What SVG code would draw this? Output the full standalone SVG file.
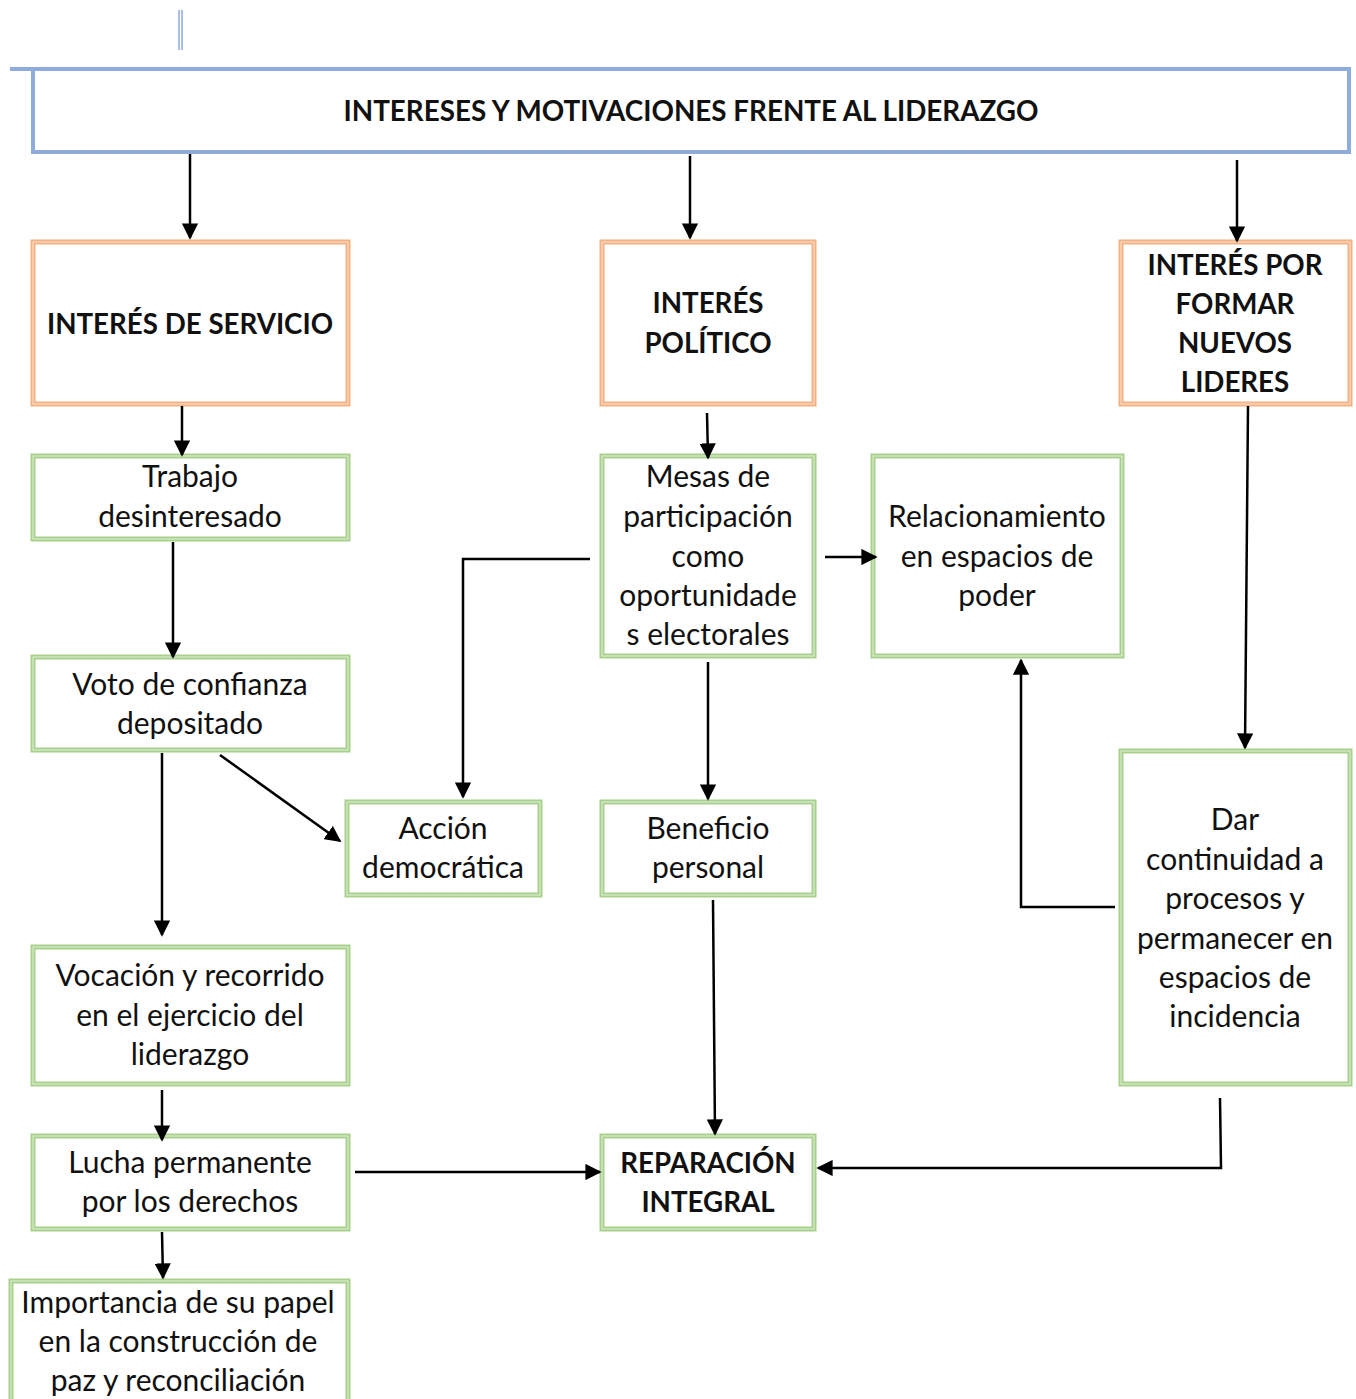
<svg xmlns="http://www.w3.org/2000/svg" width="1356" height="1399" viewBox="0 0 1356 1399">
<defs>
<marker id="ah" viewBox="0 0 10 10" refX="9" refY="5" markerWidth="6.5" markerHeight="6.5" orient="auto" markerUnits="strokeWidth">
<path d="M0,0 L10,5 L0,10 Z" fill="#000"/>
</marker>
</defs>
<style>
.o{fill:#fff;stroke:#f4b183;stroke-width:5}
.g{fill:#fff;stroke:#a9d18e;stroke-width:5}
.in-o{fill:none;stroke:#fbe3d2;stroke-width:1}
.in-g{fill:none;stroke:#e2f0d8;stroke-width:1}
.b{fill:none;stroke:#8faadc;stroke-width:4}
text{font-family:Lato,"Open Sans","Liberation Sans",sans-serif;fill:#111;text-anchor:middle}
.t{font-size:30px}
.h{font-size:27.7px;font-weight:bold}
.ti{font-size:27.8px;font-weight:bold}
.c{fill:none;stroke:#000;stroke-width:2.5;marker-end:url(#ah)}
</style>
<rect width="1356" height="1399" fill="#fff"/>
<g id="mark"><line x1="179" y1="10" x2="179" y2="50" stroke="#8faadc" stroke-width="1.5"/><line x1="182" y1="10" x2="182" y2="50" stroke="#8faadc" stroke-width="1.5"/></g>
<g id="title">
<path class="b" d="M10,69 H1349 V152 H33 V69"/>
<text class="ti" x="691" y="121">INTERESES Y MOTIVACIONES FRENTE AL LIDERAZGO</text>
</g>
<g id="servicio"><rect class="o" x="33" y="242" width="315" height="162"/><rect class="in-o" x="33" y="242" width="315" height="162"/><text class="h" x="190" y="334">INTERÉS DE SERVICIO</text></g>
<g id="politico"><rect class="o" x="602" y="242" width="212" height="162"/><rect class="in-o" x="602" y="242" width="212" height="162"/><text class="h" x="708" y="313">INTERÉS</text><text class="h" x="708" y="353">POLÍTICO</text></g>
<g id="nuevos"><rect class="o" x="1121" y="242" width="229" height="162"/><rect class="in-o" x="1121" y="242" width="229" height="162"/><text class="h" x="1235" y="275">INTERÉS POR</text><text class="h" x="1235" y="314">FORMAR</text><text class="h" x="1235" y="353">NUEVOS</text><text class="h" x="1235" y="392">LIDERES</text></g>
<g id="trabajo"><rect class="g" x="33" y="456" width="315" height="83"/><rect class="in-g" x="33" y="456" width="315" height="83"/><text class="t" x="190" y="487">Trabajo</text><text class="t" x="190" y="527">desinteresado</text></g>
<g id="mesas"><rect class="g" x="602" y="456" width="212" height="200"/><rect class="in-g" x="602" y="456" width="212" height="200"/><text class="t" x="708" y="487">Mesas de</text><text class="t" x="708" y="527">participación</text><text class="t" x="708" y="567">como</text><text class="t" x="708" y="606">oportunidade</text><text class="t" x="708" y="645">s electorales</text></g>
<g id="relacionamiento"><rect class="g" x="873" y="456" width="249" height="200"/><rect class="in-g" x="873" y="456" width="249" height="200"/><text class="t" x="997" y="527">Relacionamiento</text><text class="t" x="997" y="567">en espacios de</text><text class="t" x="997" y="606">poder</text></g>
<g id="voto"><rect class="g" x="33" y="657" width="315" height="93"/><rect class="in-g" x="33" y="657" width="315" height="93"/><text class="t" x="190" y="695">Voto de confianza</text><text class="t" x="190" y="734">depositado</text></g>
<g id="accion"><rect class="g" x="347" y="802" width="193" height="93"/><rect class="in-g" x="347" y="802" width="193" height="93"/><text class="t" x="443" y="839">Acción</text><text class="t" x="443" y="878">democrática</text></g>
<g id="beneficio"><rect class="g" x="602" y="802" width="212" height="93"/><rect class="in-g" x="602" y="802" width="212" height="93"/><text class="t" x="708" y="839">Beneficio</text><text class="t" x="708" y="878">personal</text></g>
<g id="dar"><rect class="g" x="1121" y="751" width="229" height="333"/><rect class="in-g" x="1121" y="751" width="229" height="333"/><text class="t" x="1235" y="830">Dar</text><text class="t" x="1235" y="870">continuidad a</text><text class="t" x="1235" y="909">procesos y</text><text class="t" x="1235" y="949">permanecer en</text><text class="t" x="1235" y="988">espacios de</text><text class="t" x="1235" y="1027">incidencia</text></g>
<g id="vocacion"><rect class="g" x="33" y="947" width="315" height="137"/><rect class="in-g" x="33" y="947" width="315" height="137"/><text class="t" x="190" y="986">Vocación y recorrido</text><text class="t" x="190" y="1026">en el ejercicio del</text><text class="t" x="190" y="1065">liderazgo</text></g>
<g id="lucha"><rect class="g" x="33" y="1136" width="315" height="93"/><rect class="in-g" x="33" y="1136" width="315" height="93"/><text class="t" x="190" y="1173">Lucha permanente</text><text class="t" x="190" y="1212">por los derechos</text></g>
<g id="reparacion"><rect class="g" x="602" y="1136" width="212" height="93"/><rect class="in-g" x="602" y="1136" width="212" height="93"/><text class="h" x="708" y="1173">REPARACIÓN</text><text class="h" x="708" y="1212">INTEGRAL</text></g>
<g id="importancia"><rect class="g" x="11" y="1281" width="337" height="140"/><rect class="in-g" x="11" y="1281" width="337" height="140"/><text class="t" x="178" y="1313">Importancia de su papel</text><text class="t" x="178" y="1352">en la construcción de</text><text class="t" x="178" y="1391">paz y reconciliación</text></g>
<g id="connectors">
<path class="c" d="M190,154 V238"/>
<path class="c" d="M690,156 V238"/>
<path class="c" d="M1237,160 V241"/>
<path class="c" d="M182,406 V455"/>
<path class="c" d="M707,413 L708,458"/>
<path class="c" d="M173,542 V657"/>
<path class="c" d="M162,753 V935"/>
<path class="c" d="M220,755 L340,841"/>
<path class="c" d="M590,559 H463 V797"/>
<path class="c" d="M825,557 H876"/>
<path class="c" d="M708,662 V799"/>
<path class="c" d="M1248,406 L1245,748"/>
<path class="c" d="M1115,907 H1021 V660"/>
<path class="c" d="M713,900 L715,1134"/>
<path class="c" d="M162,1090 V1140"/>
<path class="c" d="M355,1172 H600"/>
<path class="c" d="M1220,1098 L1221,1168 H818"/>
<path class="c" d="M162,1232 L163,1278"/>
</g>
</svg>
